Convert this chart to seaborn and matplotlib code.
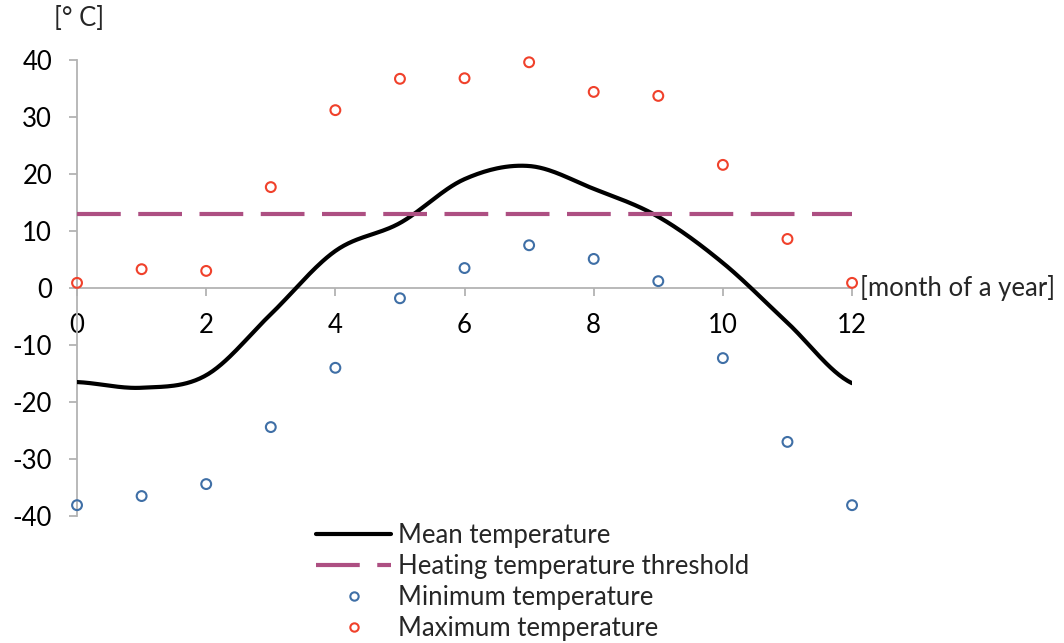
import numpy as np
import pandas as pd
import matplotlib
matplotlib.use("Agg")
import matplotlib.pyplot as plt
import seaborn as sns
from matplotlib.lines import Line2D

months = [0, 1, 2, 3, 4, 5, 6, 7, 8, 9, 10, 11, 12]
mean_temp = [-16.5, -17.5, -15.3, -4.6, 6.5, 11.4, 19.1, 21.4, 17.4, 12.5, 4.4, -6.1, -16.7]
min_temp = [-38.1, -36.5, -34.4, -24.4, -14.0, -1.8, 3.5, 7.5, 5.1, 1.2, -12.3, -27.0, -38.1]
max_temp = [0.9, 3.3, 3.0, 17.7, 31.2, 36.7, 36.8, 39.6, 34.4, 33.7, 21.6, 8.6, 0.9]
threshold = 13
x_ticks = [0, 2, 4, 6, 8, 10, 12]
y_ticks = [-40, -30, -20, -10, 0, 10, 20, 30, 40]

sns.set_style("white")
plt.rcParams['font.family'] = ['Lato', 'DejaVu Sans']
plt.rcParams['axes.unicode_minus'] = False
FS = 18.5


def smooth_curve(x, y, n=30, tension=0.5):
    """Catmull-Rom style smoothing (like spreadsheet smoothed lines)."""
    x = np.asarray(x, float)
    y = np.asarray(y, float)
    px = np.concatenate([[2 * x[0] - x[1]], x, [2 * x[-1] - x[-2]]])
    py = np.concatenate([[y[0]], y, [y[-1]]])
    xs, ys = [], []
    for i in range(1, len(px) - 2):
        t = np.linspace(0, 1, n, endpoint=False)
        for arr, out in ((px, xs), (py, ys)):
            p0, p1, p2, p3 = arr[i - 1], arr[i], arr[i + 1], arr[i + 2]
            m1 = tension * (p2 - p0)
            m2 = tension * (p3 - p1)
            h00 = 2 * t**3 - 3 * t**2 + 1
            h10 = t**3 - 2 * t**2 + t
            h01 = -2 * t**3 + 3 * t**2
            h11 = t**3 - t**2
            out.extend(h00 * p1 + h10 * m1 + h01 * p2 + h11 * m2)
    xs.append(x[-1])
    ys.append(y[-1])
    return np.array(xs), np.array(ys)


fig = plt.figure(figsize=(10.64, 6.43), dpi=100)
ax = fig.add_axes([0.0724, 0.1975, 0.7284, 0.7092])

sx, sy = smooth_curve(months, mean_temp)
smooth_df = pd.DataFrame({"month": sx, "temp": sy})
sns.lineplot(data=smooth_df, x="month", y="temp", ax=ax, color="black",
             linewidth=3.0, sort=False, estimator=None)

thr_df = pd.DataFrame({"month": [months[0], months[-1]], "temp": [threshold, threshold]})
sns.lineplot(data=thr_df, x="month", y="temp", ax=ax, color="#ad4f82",
             linewidth=3.0, estimator=None)
ax.lines[-1].set_dashes((10.5, 4.2))

blue = "#3f6fa6"
red = "#f0412b"
df = pd.DataFrame({"month": months, "min": min_temp, "max": max_temp})
sns.scatterplot(data=df, x="month", y="min", ax=ax, marker="o", s=50,
                facecolor="none", edgecolor=blue, linewidth=1.5, zorder=5, clip_on=False)
sns.scatterplot(data=df, x="month", y="max", ax=ax, marker="o", s=50,
                facecolor="none", edgecolor=red, linewidth=1.5, zorder=5, clip_on=False)

ax.set_xlim(0, 12)
ax.set_ylim(-40, 40)
ax.set_xticks(x_ticks)
ax.set_yticks(y_ticks)
ax.set_xlabel("")
ax.set_ylabel("")

for s in ["top", "right"]:
    ax.spines[s].set_visible(False)
ax.spines["left"].set_position(("data", 0))
ax.spines["bottom"].set_position(("data", 0))
for s in ["left", "bottom"]:
    ax.spines[s].set_color("#b3b3b3")
    ax.spines[s].set_linewidth(1.3)
    ax.spines[s].set_zorder(1)
ax.tick_params(axis="both", which="both", direction="out", length=6, width=1.3,
               color="#b3b3b3", labelsize=FS, labelcolor="black",
               left=True, bottom=True)
ax.tick_params(axis="y", pad=12)
ax.tick_params(axis="x", pad=12)

ax.text(-0.03, 1.09, "[° C]", transform=ax.transAxes, fontsize=FS, ha="left", va="center")
ax.text(12.12, 0, "[month of a year]", fontsize=FS, ha="left", va="center")

handles = [
    Line2D([], [], color="black", linewidth=3.0),
    Line2D([], [], color="#ad4f82", linewidth=3.0, dashes=(10.5, 4.2)),
    Line2D([], [], linestyle="none", marker="o", markersize=6, markerfacecolor="none",
           markeredgecolor=blue, markeredgewidth=1.5),
    Line2D([], [], linestyle="none", marker="o", markersize=6, markerfacecolor="none",
           markeredgecolor=red, markeredgewidth=1.5),
]
labels = ["Mean temperature", "Heating temperature threshold",
          "Minimum temperature", "Maximum temperature"]
fig.legend(handles, labels, loc="upper left", bbox_to_anchor=(0.295, 0.191),
           frameon=False, fontsize=FS, handlelength=2.9, handletextpad=0.27,
           labelspacing=0.24, borderpad=0.1, borderaxespad=0)

fig.savefig("out.png", dpi=100)
